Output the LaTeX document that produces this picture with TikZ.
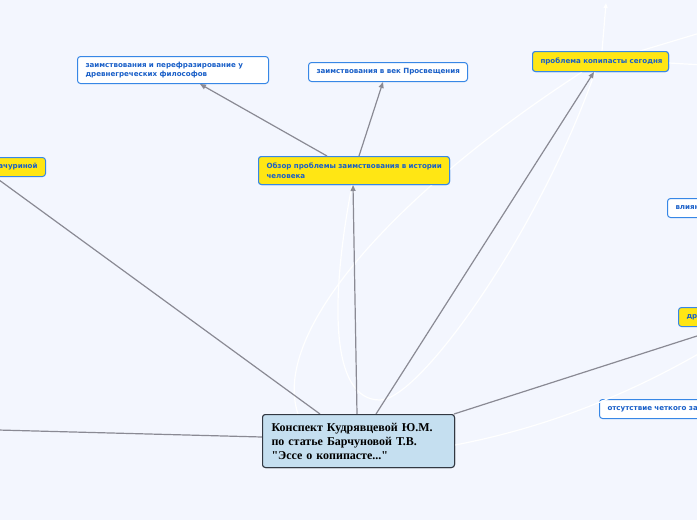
\documentclass[tikz,border=0pt]{standalone}
\usepackage{fontspec}
\setmainfont{Liberation Serif}[Ligatures=TeXOff]
\newfontfamily\nodefont{DejaVu Sans}
\usetikzlibrary{arrows.meta,calc}
\definecolor{bgc}{RGB}{243,246,254}
\definecolor{yel}{RGB}{255,230,20}
\definecolor{bord}{RGB}{55,135,230}
\definecolor{txtb}{RGB}{25,95,200}
\definecolor{edge}{RGB}{138,138,148}
\definecolor{cfill}{RGB}{197,223,240}
\definecolor{cbord}{RGB}{50,56,66}
\tikzset{
  box/.style={draw=bord, line width=1pt, rounded corners=3pt, anchor=north west,
    inner xsep=8pt, inner ysep=0pt, align=left, text=txtb,
    font=\nodefont\bfseries\fontsize{7.1}{9.5}\selectfont},
  wbox/.style={box, fill=white},
  ybox/.style={box, fill=yel},
  cbox/.style={draw=cbord, line width=1pt, rounded corners=3pt, fill=cfill, anchor=north west,
    inner xsep=9pt, inner ysep=0pt, align=left, text=black,
    font=\bfseries\fontsize{12}{14}\selectfont},
  conn/.style={draw=edge, line width=1.2pt},
  arr/.style={conn, -{Triangle[length=6pt,width=5pt]}},
  wline/.style={draw=white, line width=1.2pt},
}
\begin{document}
\begin{tikzpicture}[x=1pt,y=-1pt]
\fill[bgc] (0,0) rectangle (697,520);
\useasboundingbox (0,0) rectangle (697,520);
\clip (0,0) rectangle (697,520);

% nodes
\node[cbox, minimum width=192pt, minimum height=53pt, text width=174pt] (c) at (262,414)
  {\mbox{Конспект Кудрявцевой Ю.М.}\\\mbox{по статье Барчуновой Т.В.}\\\mbox{"Эссе о копипасте..."}};
\node[ybox, minimum width=191pt, minimum height=28pt, text width=175pt] (o) at (258,156)
  {\mbox{Обзор проблемы заимствования в истории}\\человека};
\node[wbox, minimum width=191pt, minimum height=27pt, text width=175pt] (z1) at (77,56)
  {\mbox{заимствования и перефразирование у}\\\mbox{древнегреческих философов}};
\node[wbox, minimum width=159pt, minimum height=19pt, text width=143pt] (z2) at (308,62)
  {\mbox{заимствования в век Просвещения}};
\node[ybox, minimum width=136pt, minimum height=20pt, text width=120pt] (p) at (532,51)
  {\mbox{проблема копипасты сегодня}};
\node[ybox, minimum width=105pt, minimum height=19pt, text width=89pt, align=right] (l) at (-60,157)
  {ачуриной};
\node[wbox, minimum width=100pt, minimum height=19pt, text width=84pt] (v) at (667,198)
  {влияние};
\node[ybox, minimum width=100pt, minimum height=19pt, text width=84pt] (d) at (678,307)
  {другие};
\node[wbox, minimum width=160pt, minimum height=19pt, text width=144pt] (ot) at (599,399)
  {\mbox{отсутствие четкого заимствования}};
\coordinate (farleft) at (-40,429);
\coordinate (topoff) at (606,3);
\coordinate (rtop) at (720,27);
\coordinate (rmid) at (720,66);
\coordinate (rlow) at (730,335);

% white relation curves
\draw[wline, -{Triangle[length=5pt,width=4pt]}] ([xshift=70pt]p.north west) .. controls (604,30) .. (topoff);
\draw[wline] ([xshift=108pt]p.north west) -- (rtop);
\draw[wline] ([yshift=-12pt]p.north east) -- (rmid);
\draw[wline] ([xshift=50pt]p.south west) .. controls (400,190) and (270,330) .. ([xshift=36pt]c.north west);
\draw[wline] ([xshift=94pt]o.south west) .. controls (330,300) and (330,400) .. (380,400)
  .. controls (420,400) and (540,230) .. ([xshift=63pt]p.south west);
\draw[wline] ([yshift=-31pt]c.north east) .. controls (560,425) and (650,385) .. (rlow);

% redraw nodes over white curves
\node[ybox, minimum width=191pt, minimum height=28pt, text width=175pt] at (258,156)
  {\mbox{Обзор проблемы заимствования в истории}\\человека};
\node[ybox, minimum width=136pt, minimum height=20pt, text width=120pt] at (532,51)
  {\mbox{проблема копипасты сегодня}};

% grey connectors
\draw[conn] ([xshift=58pt]c.north west) -- ([xshift=55pt]l.south west);
\draw[conn] (c.west |- 0,437) -- (farleft);
\draw[arr] ([xshift=95pt]c.north west) -- ([xshift=95pt]o.south west);
\draw[arr] ([xshift=114pt]c.north west) -- ([xshift=62pt]p.south west);
\draw[conn] ([xshift=-1pt]c.north east) -- ([xshift=47pt]d.south west);
\draw[arr] ([xshift=69pt]o.north west) -- ([xshift=123pt]z1.south west);
\draw[arr] ([xshift=101pt]o.north west) -- ([xshift=75pt]z2.south west);

% centre node on top
\node[cbox, minimum width=192pt, minimum height=53pt, text width=174pt] at (262,414)
  {\mbox{Конспект Кудрявцевой Ю.М.}\\\mbox{по статье Барчуновой Т.В.}\\\mbox{"Эссе о копипасте..."}};
\end{tikzpicture}
\end{document}
